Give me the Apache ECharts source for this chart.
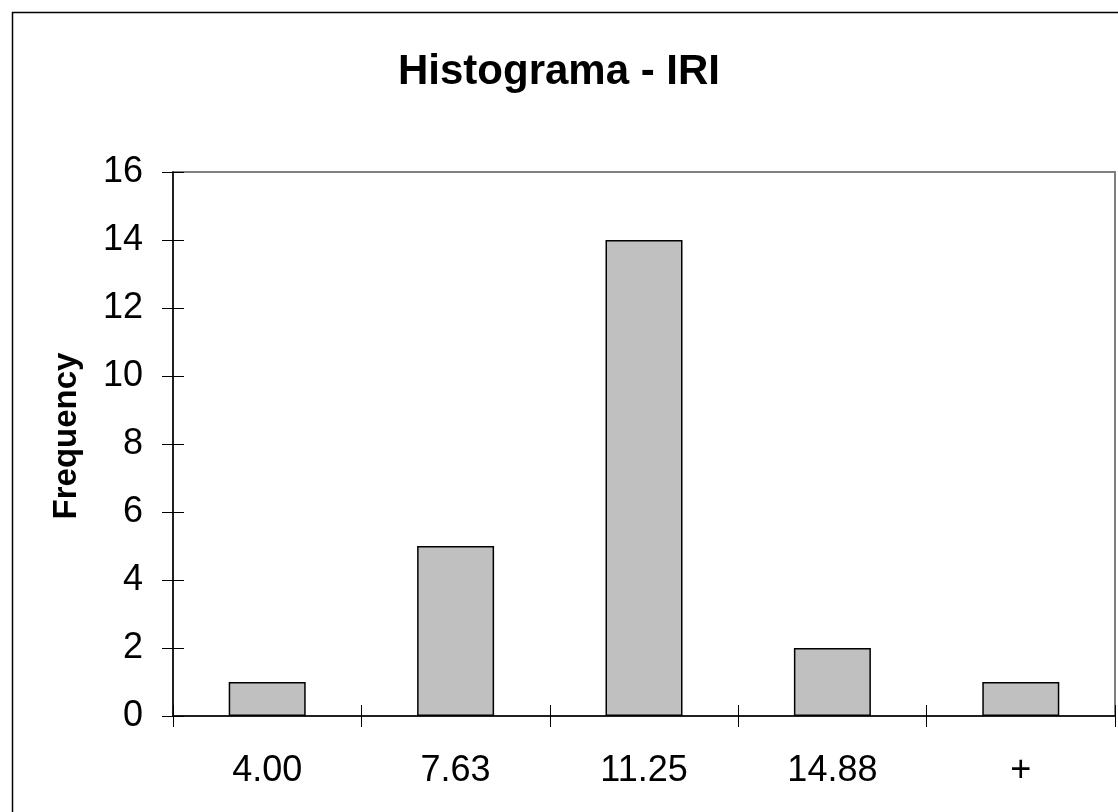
<!DOCTYPE html>
<html>
<head>
<meta charset="utf-8">
<script src="https://cdn.jsdelivr.net/npm/echarts@6/dist/echarts.min.js"></script>
<style>
html,body{margin:0;padding:0;background:#fff;}
#c{width:1118px;height:812px;}
</style>
</head>
<body>
<div id="c"></div>
<script>
const titleText = "Histograma - IRI";
const categories = ["4.00", "7.63", "11.25", "14.88", "+"];
const frequency = [1, 5, 14, 2, 1];
const yAxisName = "Frequency";
const yMin = 0, yMax = 16, yInterval = 2;

const FONT = "'Liberation Sans', Arial, sans-serif";
const chart = echarts.init(document.getElementById('c'), null, {renderer: 'canvas'});
chart.setOption({
  backgroundColor: '#fff',
  animation: false,
  title: {
    text: titleText,
    left: 'center',
    top: 46,
    textStyle: {fontFamily: FONT, fontSize: 42, fontWeight: 'bold', color: '#000'}
  },
  graphic: [{
    type: 'rect',
    shape: {x: 12.5, y: 12.5, width: 3000, height: 3000},
    style: {fill: 'none', stroke: '#000', lineWidth: 1.5},
    silent: true, z: 100
  }, {
    type: 'text',
    x: 67, y: 436,
    rotation: Math.PI / 2,
    style: {
      text: yAxisName,
      font: "bold 33px 'Liberation Sans', Arial, sans-serif",
      fill: '#000',
      align: 'center',
      verticalAlign: 'middle'
    },
    silent: true
  }],
  grid: {
    left: 173, top: 172, right: 3, bottom: 96,
    show: true, borderColor: '#808080', borderWidth: 2, backgroundColor: 'transparent'
  },
  xAxis: [{
    type: 'category',
    data: categories,
    boundaryGap: true,
    axisLine: {show: true, lineStyle: {color: '#000', width: 1.5}},
    axisTick: {show: true, length: 11, alignWithLabel: false, lineStyle: {color: '#000', width: 1}},
    axisLabel: {fontFamily: FONT, fontSize: 36, color: '#000', margin: 37},
    splitLine: {show: false}
  }, {
    type: 'category',
    data: categories,
    position: 'bottom',
    boundaryGap: true,
    axisLine: {show: false},
    axisTick: {show: true, inside: true, length: 11, lineStyle: {color: '#000', width: 1}},
    axisLabel: {show: false},
    splitLine: {show: false}
  }],
  yAxis: [{
    type: 'value',
    min: yMin, max: yMax, interval: yInterval,
    axisLine: {show: true, lineStyle: {color: '#000', width: 1.5}},
    axisTick: {show: true, length: 11, lineStyle: {color: '#000', width: 1}},
    axisLabel: {fontFamily: FONT, fontSize: 36, color: '#000', margin: 30},
    splitLine: {show: false}
  }, {
    type: 'value',
    min: yMin, max: yMax, interval: yInterval,
    position: 'left',
    axisLine: {show: false},
    axisTick: {show: true, inside: true, length: 11, lineStyle: {color: '#000', width: 1}},
    axisLabel: {show: false},
    splitLine: {show: false}
  }],
  series: [{
    type: 'bar',
    data: frequency,
    xAxisIndex: 0,
    yAxisIndex: 0,
    barWidth: 77,
    itemStyle: {color: '#c0c0c0', borderColor: '#000', borderWidth: 1.5},
    silent: true
  }]
});
</script>
</body>
</html>
